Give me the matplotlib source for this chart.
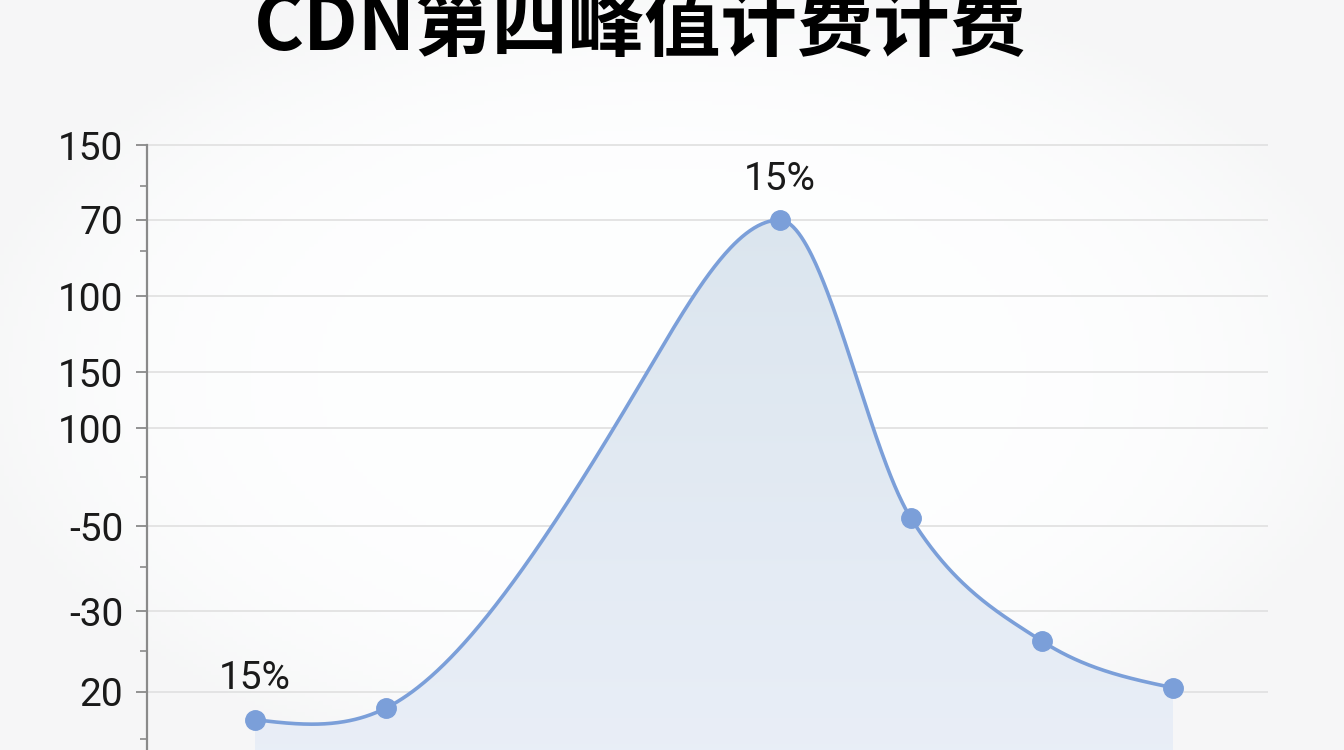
import numpy as np
import matplotlib
matplotlib.use("Agg")
import matplotlib.pyplot as plt
from matplotlib.patches import Polygon

plt.rcParams['font.family'] = ['Roboto', 'Noto Sans CJK SC', 'DejaVu Sans']

# data (y on a linear scale; tick labels are the printed ones)
title = "CDN第四峰值计费计费"
x_idx = np.arange(8)
values = [13.4, 16.2, 47.5, 96.5, 132.2, 61.4, 32.1, 21.0]
marked = [0, 1, 4, 5, 6, 7]
point_labels = {0: "15%", 4: "15%"}
ytick_pos = [150, 132.2, 114.1, 96.0, 82.7, 59.4, 39.2, 20]
ytick_labels = ["150", "70", "100", "150", "100", "-50", "-30", "20"]
yminor_pos = [140.3, 124.8, 71.0, 49.6, 29.7, 8.8]

LINE = '#7b9fd9'


def smooth_curve(y, xs):
    # unit-spaced Hermite curve: C2 spline on the rise (natural start, flat at
    # the peak), Catmull-Rom tangents on the fall
    y = np.asarray(y, float)
    n = len(y)
    p = int(np.argmax(y))
    m = np.zeros(n)
    for i in range(p + 1, n - 1):
        m[i] = (y[i + 1] - y[i - 1]) / 2
    m[-1] = (3 * (y[-1] - y[-2]) - m[-2]) / 2
    A = np.zeros((p + 1, p + 1))
    b = np.zeros(p + 1)
    A[0, 0], A[0, 1], b[0] = 2, 1, 3 * (y[1] - y[0])
    for i in range(1, p):
        A[i, i - 1], A[i, i], A[i, i + 1] = 1, 4, 1
        b[i] = 3 * (y[i + 1] - y[i - 1])
    A[p, p] = 1
    m[:p + 1] = np.linalg.solve(A, b)
    k = np.clip(np.floor(xs).astype(int), 0, n - 2)
    t = xs - k
    h00 = 2 * t**3 - 3 * t**2 + 1
    h10 = t**3 - 2 * t**2 + t
    h01 = -2 * t**3 + 3 * t**2
    h11 = t**3 - t**2
    return h00 * y[k] + h10 * m[k] + h01 * y[k + 1] + h11 * m[k + 1]


fig = plt.figure(figsize=(13.44, 7.5), dpi=100)
fig.patch.set_facecolor('white')

# faint vignette background
bg = fig.add_axes([0, 0, 1, 1], zorder=-10)
gx, gy = np.meshgrid(np.linspace(-1, 1, 300), np.linspace(-1, 1, 200))
r = np.clip(np.sqrt((gx / 1.05) ** 2 + (gy / 1.1) ** 2), 0, 1)
shade = 1 - 0.03 * r ** 4
bg.imshow(np.dstack([shade * 0.996, shade * 0.998, shade, np.ones_like(shade)]),
          aspect='auto', extent=[0, 1, 0, 1])
bg.axis('off')

y_lo, y_hi = 6.2, 152.4
ax = fig.add_axes([147 / 1344, 0, (1268 - 147) / 1344, (750 - 135) / 750])
ax.set_facecolor('none')

xs = np.linspace(0, 7, 700)
ys = smooth_curve(values, xs)

# gradient fill under the curve
verts = np.column_stack([np.r_[xs, xs[-1], xs[0]], np.r_[ys, y_lo - 5, y_lo - 5]])
poly = Polygon(verts, closed=True, facecolor='none', edgecolor='none')
ax.add_patch(poly)
grad = np.linspace(0, 1, 256)[:, None]
top = np.array([0.86, 0.90, 0.935])
bot = np.array([0.915, 0.935, 0.97])
img = top + (bot - top) * grad[..., None]
im = ax.imshow(img[::-1], aspect='auto', extent=[0, 7, y_lo - 5, max(values)],
               origin='lower', zorder=1)
im.set_clip_path(poly)
ax.set_xlim(-0.824, 7.725)
ax.set_ylim(y_lo, y_hi)

ax.plot(xs, ys, color=LINE, lw=2.6, zorder=3, solid_capstyle='round')
ax.plot([x_idx[i] for i in marked], [values[i] for i in marked], 'o',
        color=LINE, ms=14, zorder=4)

for i, txt in point_labels.items():
    ax.annotate(txt, (x_idx[i], values[i]), xytext=(0, 16), textcoords='offset points',
                ha='center', va='bottom', fontsize=28, color='#1a1a1a', zorder=5)

ax.set_yticks(ytick_pos)
ax.set_yticklabels(ytick_labels)
ax.set_yticks(yminor_pos, minor=True)
ax.tick_params(axis='y', which='major', length=8, width=1.3, color='#8a8a8a',
               pad=9, labelsize=28, labelcolor='#1a1a1a')
ax.tick_params(axis='y', which='minor', length=5, width=1.2, color='#8a8a8a')
ax.set_xticks([])
ax.yaxis.grid(True, which='major', color='#e2e2e2', lw=1.3, zorder=0)
ax.set_axisbelow(True)

for s in ['top', 'right', 'bottom']:
    ax.spines[s].set_visible(False)
ax.spines['left'].set_color('#8a8a8a')
ax.spines['left'].set_linewidth(1.6)
ax.spines['left'].set_bounds(y_lo, 150)

fig.text(640 / 1344, (750 - 50) / 750, title, ha='center', va='baseline',
         fontsize=55, fontweight='black', color='black',
         family=['Noto Sans CJK SC', 'DejaVu Sans'])

fig.savefig('out.png', dpi=100)
